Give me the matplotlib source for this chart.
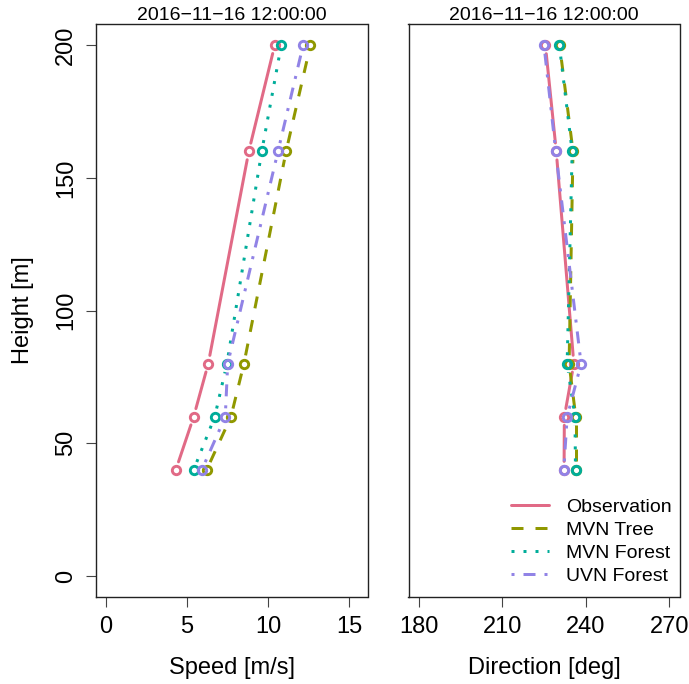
#wind speed / direction profiles, observation vs forecasts
import numpy as np
import matplotlib
matplotlib.use('Agg')
import matplotlib.pyplot as plt
from matplotlib.lines import Line2D

plt.rcParams['font.family'] = ['Liberation Sans', 'DejaVu Sans']

#heights [m]
height = [40, 60, 80, 160, 200]

#speed [m/s]
speed_obs = [4.3, 5.4, 6.3, 8.8, 10.4]
speed_mvn_tree = [6.2, 7.7, 8.5, 11.1, 12.6]
speed_mvn_forest = [5.4, 6.7, 7.45, 9.6, 10.8]
speed_uvn_forest = [5.9, 7.35, 7.5, 10.6, 12.15]

#direction [deg]
dir_obs = [232.2, 232.3, 235.7, 229.4, 225.5]
dir_mvn_tree = [236.4, 236.4, 234.0, 235.4, 230.6]
dir_mvn_forest = [236.3, 236.1, 233.3, 235.1, 230.5]
dir_uvn_forest = [232.1, 233.3, 238.3, 229.2, 225.0]

names = ["Observation", "MVN Tree", "MVN Forest", "UVN Forest"]
colors = ["#E16A86", "#909800", "#00AD9A", "#9183E6"]
dashes = [None, (4, 4), (1, 3), (1, 3, 4, 3)]

title = "2016\u221211\u221216 12:00:00"

W, H = 689, 684
fig = plt.figure(figsize=(W/100, H/100), dpi=100)
ax1 = fig.add_axes([96/W, 1-597.3/H, 271.5/W, 573.3/H])
ax2 = fig.add_axes([408.5/W, 1-597.3/H, 271/W, 573.3/H])

ax1.set_xlim(-0.62, 16.12)
ax2.set_xlim(176.4, 273.6)
for ax in (ax1, ax2):
    ax.set_ylim(-8, 208)
    for s in ax.spines.values():
        s.set_linewidth(1.0)
        s.set_color('#222222')
    ax.tick_params(length=7.2, width=0.8, color='#444444', labelsize=17, pad=6)
    ax.set_title(title, fontsize=14, pad=2.8)

ax1.set_xticks([0, 5, 10, 15])
ax1.set_yticks([0, 50, 100, 150, 200])
ax1.tick_params(axis='y', pad=6.5)
plt.setp(ax1.get_yticklabels(), rotation=90, va='center')
ax2.set_xticks([180, 210, 240, 270])
ax2.set_yticks([])

LW = 2.16
GAP = 8.5  # px, gap left around the points like R type="b"


def profile(ax, x, y, color, dash):
    pts = ax.transData.transform(np.column_stack([x, y]))
    inv = ax.transData.inverted()
    for p0, p1 in zip(pts[:-1], pts[1:]):
        d = p1 - p0
        L = np.hypot(d[0], d[1])
        if L <= 2*GAP:
            continue
        u = d / L
        seg = inv.transform(np.array([p0 + u*GAP, p1 - u*GAP]))
        ln, = ax.plot(seg[:, 0], seg[:, 1], color=color, lw=LW,
                      solid_capstyle='round', dash_capstyle='butt')
        if dash is not None:
            ln.set_dashes(dash)


def points(ax, x, y, color):
    ax.plot(x, y, 'o', ls='none', ms=6.0, mew=2.1, mfc='none', mec=color)


fig.canvas.draw()
speeds = [speed_obs, speed_mvn_tree, speed_mvn_forest, speed_uvn_forest]
dirs = [dir_obs, dir_mvn_tree, dir_mvn_forest, dir_uvn_forest]
for sp, dr, c, d in zip(speeds, dirs, colors, dashes):
    profile(ax1, sp, height, c, d)
    profile(ax2, dr, height, c, d)
for sp, dr, c in zip(speeds, dirs, colors):
    points(ax1, sp, height, c)
    points(ax2, dr, height, c)

handles = []
for c, d in zip(colors, dashes):
    h = Line2D([], [], color=c, lw=LW, solid_capstyle='round', dash_capstyle='butt')
    if d is not None:
        h.set_dashes(d)
    handles.append(h)
ax2.legend(handles, names, loc='lower right', bbox_to_anchor=(1.0, 0.008),
           frameon=False, fontsize=14, handlelength=1.95, handletextpad=0.9,
           labelspacing=0.28, borderaxespad=0.0)

fig.text(23/W, 1-310.5/H, "Height [m]", rotation=90, ha='center', va='center', fontsize=17)
fig.text(232/W, 1-674/H, "Speed [m/s]", ha='center', va='baseline', fontsize=17)
fig.text(544/W, 1-674/H, "Direction [deg]", ha='center', va='baseline', fontsize=17)

fig.savefig('out.png', dpi=100)
